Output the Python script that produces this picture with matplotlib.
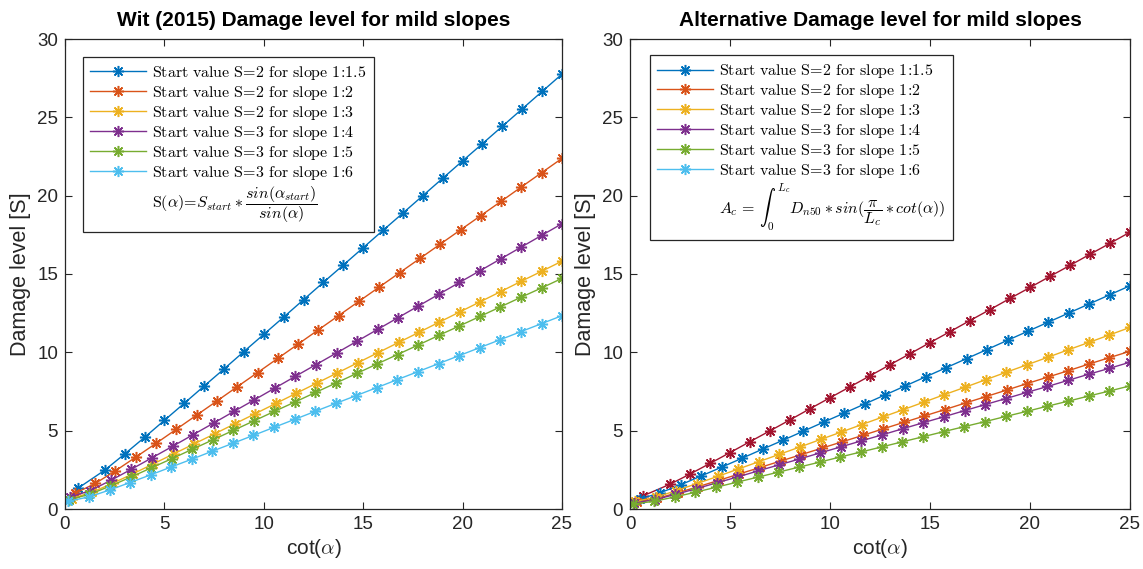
import matplotlib
matplotlib.use("Agg")
import matplotlib.pyplot as plt
from matplotlib.lines import Line2D

plt.rcParams['font.family'] = ['Liberation Sans', 'DejaVu Sans']
plt.rcParams['mathtext.fontset'] = 'cm'

# ---------------- data ----------------
labels = ["Start value S=2 for slope 1:1.5", "Start value S=2 for slope 1:2",
          "Start value S=2 for slope 1:3", "Start value S=3 for slope 1:4",
          "Start value S=3 for slope 1:5", "Start value S=3 for slope 1:6"]

x1 = [0.67, 2, 3, 4, 5, 6, 7, 8, 9, 10, 11, 12, 13, 14, 15, 16, 17, 18, 19, 20, 21, 22, 23, 24, 25]
x2 = [0.5, 1.52, 2.54, 3.56, 4.58, 5.6, 6.63, 7.65, 8.67, 9.69, 10.71, 11.73, 12.75, 13.77, 14.79,
      15.81, 16.83, 17.85, 18.88, 19.9, 20.92, 21.94, 22.96, 23.98, 25]
x3 = [0.33, 1.36, 2.39, 3.42, 4.44, 5.47, 6.5, 7.53, 8.56, 9.58, 10.61, 11.64, 12.67, 13.69, 14.72,
      15.75, 16.78, 17.81, 18.83, 19.86, 20.89, 21.92, 22.94, 23.97, 25]
x4 = [0.25, 1.28, 2.31, 3.34, 4.38, 5.41, 6.44, 7.47, 8.5, 9.53, 10.56, 11.59, 12.63, 13.66, 14.69,
      15.72, 16.75, 17.78, 18.81, 19.84, 20.88, 21.91, 22.94, 23.97, 25]
x5 = [0.2, 1.23, 2.27, 3.3, 4.33, 5.37, 6.4, 7.43, 8.47, 9.5, 10.53, 11.57, 12.6, 13.63, 14.67,
      15.7, 16.73, 17.77, 18.8, 19.83, 20.87, 21.9, 22.93, 23.97, 25]
x6 = [0.17, 1.2, 2.24, 3.27, 4.31, 5.34, 6.38, 7.41, 8.44, 9.48, 10.51, 11.55, 12.58, 13.62, 14.65,
      15.69, 16.72, 17.76, 18.79, 19.83, 20.86, 21.9, 22.93, 23.97, 25]

# Wit (2015) damage level
wit1 = [1.34, 2.48, 3.51, 4.57, 5.66, 6.75, 7.85, 8.94, 10.05, 11.15, 12.25, 13.36, 14.47, 15.57, 16.68,
        17.79, 18.89, 20.00, 21.11, 22.22, 23.32, 24.43, 25.54, 26.65, 27.76]
wit2 = [1.00, 1.63, 2.44, 3.31, 4.19, 5.09, 6.00, 6.90, 7.81, 8.71, 9.62, 10.53, 11.44, 12.35, 13.26,
        14.17, 15.08, 15.99, 16.91, 17.82, 18.73, 19.64, 20.56, 21.47, 22.38]
wit3 = [0.67, 1.07, 1.64, 2.25, 2.88, 3.52, 4.16, 4.80, 5.45, 6.09, 6.74, 7.39, 8.04, 8.68, 9.33,
        9.98, 10.63, 11.28, 11.93, 12.58, 13.23, 13.88, 14.53, 15.17, 15.82]
wit4 = [0.75, 1.18, 1.83, 2.54, 3.27, 4.00, 4.74, 5.48, 6.23, 6.97, 7.72, 8.47, 9.22, 9.96, 10.71,
        11.46, 12.21, 12.96, 13.71, 14.46, 15.21, 15.96, 16.71, 17.46, 18.21]
wit5 = [0.60, 0.93, 1.46, 2.03, 2.62, 3.21, 3.81, 4.41, 5.02, 5.62, 6.23, 6.83, 7.44, 8.04, 8.65,
        9.26, 9.86, 10.47, 11.08, 11.68, 12.29, 12.90, 13.51, 14.11, 14.72]
wit6 = [0.50, 0.77, 1.21, 1.69, 2.18, 2.68, 3.18, 3.69, 4.19, 4.70, 5.21, 5.72, 6.23, 6.74, 7.24,
        7.75, 8.26, 8.77, 9.28, 9.79, 10.30, 10.81, 11.32, 11.83, 12.34]

# Alternative damage level
alt1 = [0.85, 1.58, 2.23, 2.91, 3.60, 4.30, 4.99, 5.69, 6.40, 7.10, 7.80, 8.50, 9.21, 9.91, 10.62,
        11.32, 12.03, 12.73, 13.44, 14.14, 14.85, 15.55, 16.26, 16.96, 17.67]
alt2 = [0.64, 1.04, 1.55, 2.11, 2.67, 3.24, 3.82, 4.39, 4.97, 5.55, 6.12, 6.70, 7.28, 7.86, 8.44,
        9.02, 9.60, 10.18, 10.77, 11.35, 11.93, 12.51, 13.09, 13.67, 14.25]
alt3 = [0.42, 0.68, 1.04, 1.43, 1.83, 2.24, 2.65, 3.06, 3.47, 3.88, 4.29, 4.70, 5.12, 5.53, 5.94,
        6.35, 6.77, 7.18, 7.59, 8.01, 8.42, 8.83, 9.25, 9.66, 10.07]
alt4 = [0.48, 0.75, 1.17, 1.62, 2.08, 2.55, 3.02, 3.49, 3.96, 4.44, 4.91, 5.39, 5.87, 6.34, 6.82,
        7.30, 7.77, 8.25, 8.73, 9.20, 9.68, 10.16, 10.63, 11.11, 11.59]
alt5 = [0.38, 0.59, 0.93, 1.29, 1.67, 2.04, 2.43, 2.81, 3.19, 3.58, 3.96, 4.35, 4.73, 5.12, 5.51,
        5.89, 6.28, 6.67, 7.05, 7.44, 7.82, 8.21, 8.60, 8.98, 9.37]
alt6 = [0.32, 0.49, 0.77, 1.07, 1.39, 1.71, 2.03, 2.35, 2.67, 2.99, 3.32, 3.64, 3.96, 4.29, 4.61,
        4.94, 5.26, 5.58, 5.91, 6.23, 6.56, 6.88, 7.21, 7.53, 7.86]

xs = [x1, x2, x3, x4, x5, x6]
wit = [wit1, wit2, wit3, wit4, wit5, wit6]
alt = [alt1, alt2, alt3, alt4, alt5, alt6]

mat_colors = ['#0072BD', '#D95319', '#EDB120', '#7E2F8E', '#77AC30', '#4DBEEE', '#A2142F']
left_colors = mat_colors[:6]
right_colors = ['#A2142F', '#0072BD', '#D95319', '#EDB120', '#7E2F8E', '#77AC30']

xticks = [0, 5, 10, 15, 20, 25]
yticks = [0, 5, 10, 15, 20, 25, 30]

formula_left = r'$\mathrm{S}(\alpha)\!=\!S_{start} * \dfrac{sin(\alpha_{start})}{sin(\alpha)}$'
formula_right = r'$A_c\,=\,\int_0^{L_c} D_{n50} * sin(\dfrac{\pi}{L_c} * cot(\alpha))$'

# ---------------- figure ----------------
W, H = 1143, 569
fig = plt.figure(figsize=(W / 100, H / 100), dpi=100)
axL = fig.add_axes([65 / W, 1 - 509 / H, 497 / W, 470 / H])
axR = fig.add_axes([630 / W, 1 - 509 / H, 500 / W, 470 / H])

marker = (8, 2, 0)
edge = '#262626'


def tex_label(s):
    s = s.replace(' ', r'\ ').replace('=', r'\!=\!').replace(':', r'\!:\!')
    return r'$\mathrm{' + s + '}$'


def style(ax, title):
    ax.set_xlim(0, 25)
    ax.set_ylim(0, 30)
    ax.set_xticks(xticks)
    ax.set_yticks(yticks)
    ax.tick_params(direction='in', length=5, width=0.8, top=True, right=True,
                   labelsize=13.5, colors=edge, pad=5)
    for s in ax.spines.values():
        s.set_color(edge)
        s.set_linewidth(0.9)
    ax.set_title(title, fontsize=15, fontweight='bold', pad=9)
    ax.set_xlabel(r'cot($\alpha$)', fontsize=15, color=edge, labelpad=3)
    ax.set_ylabel('Damage level [S]', fontsize=15.5, color=edge, labelpad=4)


def make_legend(ax, handles, formula, anchor):
    h = list(handles) + [Line2D([], [], linestyle='none')]
    l = [tex_label(s) for s in labels] + [formula]
    leg = ax.legend(h, l, loc='upper left', bbox_to_anchor=anchor, borderaxespad=0,
                    fontsize=11.5, handlelength=3.5, handletextpad=0.4, labelspacing=0.12,
                    frameon=True, fancybox=False, framealpha=1, edgecolor=edge,
                    borderpad=0.45)
    leg.get_frame().set_linewidth(0.9)
    return leg


# Left plot
handlesL = []
for x, y, c in zip(xs, wit, left_colors):
    ln, = axL.plot(x, y, color=c, lw=1.0, marker=marker, ms=8, mew=1.1)
    handlesL.append(ln)
style(axL, 'Wit (2015) Damage level for mild slopes')
make_legend(axL, handlesL, formula_left, (0.036, 0.962))

# Right plot
for x, y, c in zip(xs, alt, right_colors):
    axR.plot(x, y, color=c, lw=1.0, marker=marker, ms=8, mew=1.1)
handlesR = [Line2D([], [], color=c, lw=1.0, marker=marker, ms=8, mew=1.1) for c in left_colors]
style(axR, 'Alternative Damage level for mild slopes')
make_legend(axR, handlesR, formula_right, (0.04, 0.966))

fig.savefig('out.png', dpi=100)
